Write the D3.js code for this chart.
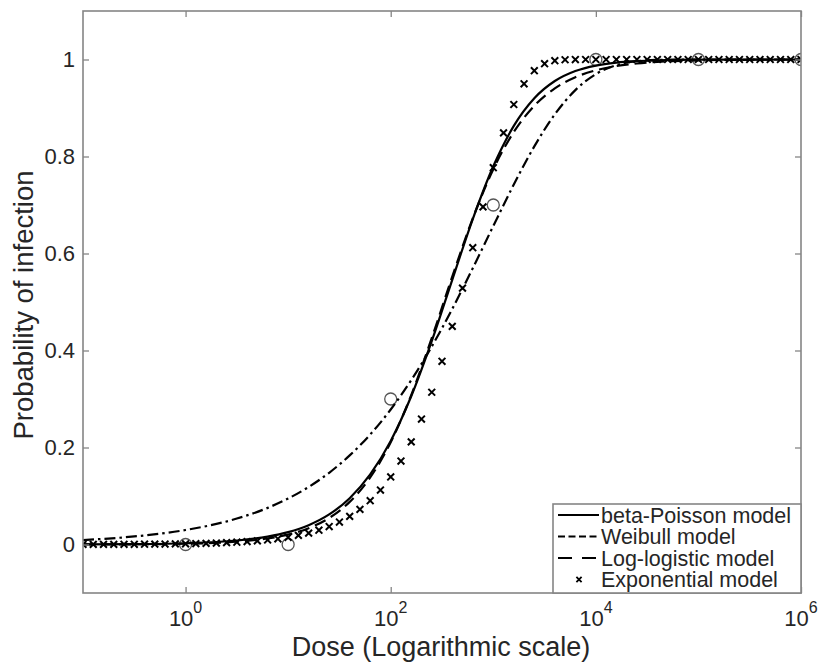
<!DOCTYPE html>
<html><head><meta charset="utf-8">
<script src="https://cdn.jsdelivr.net/npm/d3@7/dist/d3.min.js"></script>
<style>body{margin:0;background:#fff;} svg{display:block;font-family:"Liberation Sans",Arial,sans-serif;}</style>
</head><body>
<svg id="chart" width="823" height="662"></svg>
<script>
// Observed data points (circles)
const obsDose = [1, 10, 100, 1000, 10000, 100000, 1000000];
const obsProb = [0, 0, 0.3, 0.7, 1, 1, 1];

// Model curves: log10(dose) sampling
const curveLogDose = [-1,-0.5,0,0.5,0.8,1.0,1.2,1.4,1.6,1.8,2.0,2.2,2.4,2.6,2.8,3.0,3.2,3.4,3.6,3.8,4.0,4.2,4.4,4.6,5,5.5,6];
const betaPoisson = [0.00026,0.00082,0.0026,0.0082,0.0162,0.0255,0.0399,0.0620,0.0954,0.1444,0.2135,0.3056,0.4192,0.5458,0.6710,0.7798,0.8631,0.9201,0.9556,0.9762,0.9875,0.9936,0.9967,0.9984,0.9996,0.9999,1];
const weibull = [0.0092,0.0166,0.0299,0.0535,0.0755,0.0948,0.1186,0.1479,0.1837,0.2268,0.2784,0.3388,0.4081,0.4858,0.5697,0.6567,0.7422,0.8208,0.8869,0.9369,0.9699,0.9882,0.9964,0.9992,1,1,1];
const logLogistic = [0.0001,0.00045,0.0016,0.0058,0.0124,0.0204,0.0336,0.0547,0.0879,0.1382,0.2107,0.3079,0.4256,0.5522,0.6725,0.7737,0.8506,0.9046,0.9404,0.9634,0.9777,0.9865,0.9918,0.9951,0.9982,0.9995,0.9999];

// Exponential model markers
const expLogDose = [-1,-0.9,-0.8,-0.7,-0.6,-0.5,-0.4,-0.3,-0.2,-0.1,
  0,0.1,0.2,0.3,0.4,0.5,0.6,0.7,0.8,0.9,
  1,1.1,1.2,1.3,1.4,1.5,1.6,1.7,1.8,1.9,
  2,2.1,2.2,2.3,2.4,2.5,2.6,2.7,2.8,2.9,
  3,3.1,3.2,3.3,3.4,3.5,3.6,3.7,3.8,3.9,
  4,4.1,4.2,4.3,4.4,4.5,4.6,4.7,4.8,4.9,
  5,5.1,5.2,5.3,5.4,5.5,5.6,5.7,5.8,5.9,6];
const expProb = [0.00015,0.00019,0.00024,0.0003,0.00038,0.00047,0.0006,0.00075,0.00095,0.0012,
  0.0015,0.0019,0.0024,0.003,0.0038,0.0047,0.006,0.0075,0.0094,0.0118,
  0.0149,0.0187,0.0235,0.0295,0.037,0.0463,0.058,0.0724,0.0903,0.1123,
  0.1393,0.1721,0.2116,0.2587,0.3139,0.3777,0.4497,0.5285,0.6119,0.6962,
  0.7769,0.8487,0.9072,0.9499,0.9769,0.9913,0.9975,0.9995,0.9999,1,
  1,1,1,1,1,1,1,1,1,1,
  1,1,1,1,1,1,1,1,1,1,1];

const xTickExps = [0, 2, 4, 6];
const yTicks = [0, 0.2, 0.4, 0.6, 0.8, 1];
const yTickLabels = ["0", "0.2", "0.4", "0.6", "0.8", "1"];
const legendLabels = ["beta-Poisson model", "Weibull model", "Log-logistic model", "Exponential model"];

const svg = d3.select("#chart");
const L = 83, T = 11, R = 801, B = 593;
const x = d3.scaleLog().domain([0.1, 1e6]).range([L, R]);
const y = d3.scaleLinear().domain([-0.1, 1.1]).range([B, T]);
const axisCol = "#858585", textCol = "#262626";

svg.append("clipPath").attr("id","clip").append("rect").attr("x",L).attr("y",T).attr("width",R-L).attr("height",B-T);
const plot = svg.append("g").attr("clip-path","url(#clip)");

function curvePts(vals){ return curveLogDose.map((k,i)=>[x(Math.pow(10,k)), y(vals[i])]); }
const line = d3.line().curve(d3.curveMonotoneX);

// observed circles
plot.selectAll("circle.obs").data(obsDose.map((d,i)=>[d,obsProb[i]])).enter().append("circle")
  .attr("cx",d=>x(d[0])).attr("cy",d=>y(d[1])).attr("r",6)
  .attr("fill","none").attr("stroke","#555").attr("stroke-width",1.3);

// curves
plot.append("path").attr("d",line(curvePts(weibull))).attr("fill","none").attr("stroke","#000")
  .attr("stroke-width",2.2).attr("stroke-dasharray","11,4,2.5,4");
plot.append("path").attr("d",line(curvePts(logLogistic))).attr("fill","none").attr("stroke","#000")
  .attr("stroke-width",2.2).attr("stroke-dasharray","12,6");
plot.append("path").attr("d",line(curvePts(betaPoisson))).attr("fill","none").attr("stroke","#000")
  .attr("stroke-width",2.2);

// exponential x markers
const s = 3.4;
plot.selectAll("path.xm").data(expLogDose.map((k,i)=>[x(Math.pow(10,k)), y(expProb[i])])).enter().append("path")
  .attr("d",d=>`M${d[0]-s},${d[1]-s}L${d[0]+s},${d[1]+s}M${d[0]-s},${d[1]+s}L${d[0]+s},${d[1]-s}`)
  .attr("stroke","#000").attr("stroke-width",2);

// frame
svg.append("rect").attr("x",L).attr("y",T).attr("width",R-L).attr("height",B-T)
  .attr("fill","none").attr("stroke",axisCol).attr("stroke-width",1.6);

// ticks via d3 axes
const tl = 6;
const xb = svg.append("g").attr("transform",`translate(0,${B})`)
  .call(d3.axisBottom(x).tickValues(xTickExps.map(e=>Math.pow(10,e))).tickSize(-tl).tickFormat(""));
const xt = svg.append("g").attr("transform",`translate(0,${T})`)
  .call(d3.axisTop(x).tickValues(xTickExps.map(e=>Math.pow(10,e))).tickSize(-tl).tickFormat(""));
const yl = svg.append("g").attr("transform",`translate(${L},0)`)
  .call(d3.axisLeft(y).tickValues(yTicks).tickSize(-tl).tickFormat(""));
const yr = svg.append("g").attr("transform",`translate(${R},0)`)
  .call(d3.axisRight(y).tickValues(yTicks).tickSize(-tl).tickFormat(""));
[xb,xt,yl,yr].forEach(g=>{ g.select(".domain").remove(); g.selectAll("line").attr("stroke",axisCol).attr("stroke-width",1.3); });

// x tick labels
xTickExps.forEach(e=>{
  const t = svg.append("text").attr("x",x(Math.pow(10,e))).attr("y",626).attr("text-anchor","middle")
    .attr("font-size",22).attr("fill",textCol);
  t.append("tspan").text("10");
  t.append("tspan").attr("dy",-13).attr("font-size",16).text(String(e));
});
// y tick labels
yTicks.forEach((v,i)=>{
  svg.append("text").attr("x",75).attr("y",y(v)).attr("dy","0.36em").attr("text-anchor","end")
    .attr("font-size",22).attr("fill",textCol).text(yTickLabels[i]);
});

// axis titles
svg.append("text").attr("x",441).attr("y",656).attr("text-anchor","middle").attr("font-size",27)
  .attr("fill",textCol).text("Dose (Logarithmic scale)");
svg.append("text").attr("transform","translate(33,305) rotate(-90)").attr("text-anchor","middle")
  .attr("font-size",27.5).attr("fill",textCol).text("Probability of infection");

// legend
const lg = svg.append("g");
lg.append("rect").attr("x",553).attr("y",504).attr("width",R-553).attr("height",B-504)
  .attr("fill","#fff").attr("stroke",axisCol).attr("stroke-width",1.6);
const rowY = [515, 536.5, 558, 579.5];
const styles = [null, "7,3.5", "14,10", null];
legendLabels.forEach((lab,i)=>{
  if(i<3){
    lg.append("line").attr("x1",558).attr("x2",599).attr("y1",rowY[i]).attr("y2",rowY[i])
      .attr("stroke","#000").attr("stroke-width",2.2).attr("stroke-dasharray",styles[i]);
  } else {
    const cx=579, cy=rowY[i], m=2.6;
    lg.append("path").attr("d",`M${cx-m},${cy-m}L${cx+m},${cy+m}M${cx-m},${cy+m}L${cx+m},${cy-m}`)
      .attr("stroke","#000").attr("stroke-width",1.8);
  }
  lg.append("text").attr("x",601).attr("y",rowY[i]).attr("dy","0.36em").attr("font-size",21.5)
    .attr("fill",textCol).text(lab);
});
</script>
</body></html>
